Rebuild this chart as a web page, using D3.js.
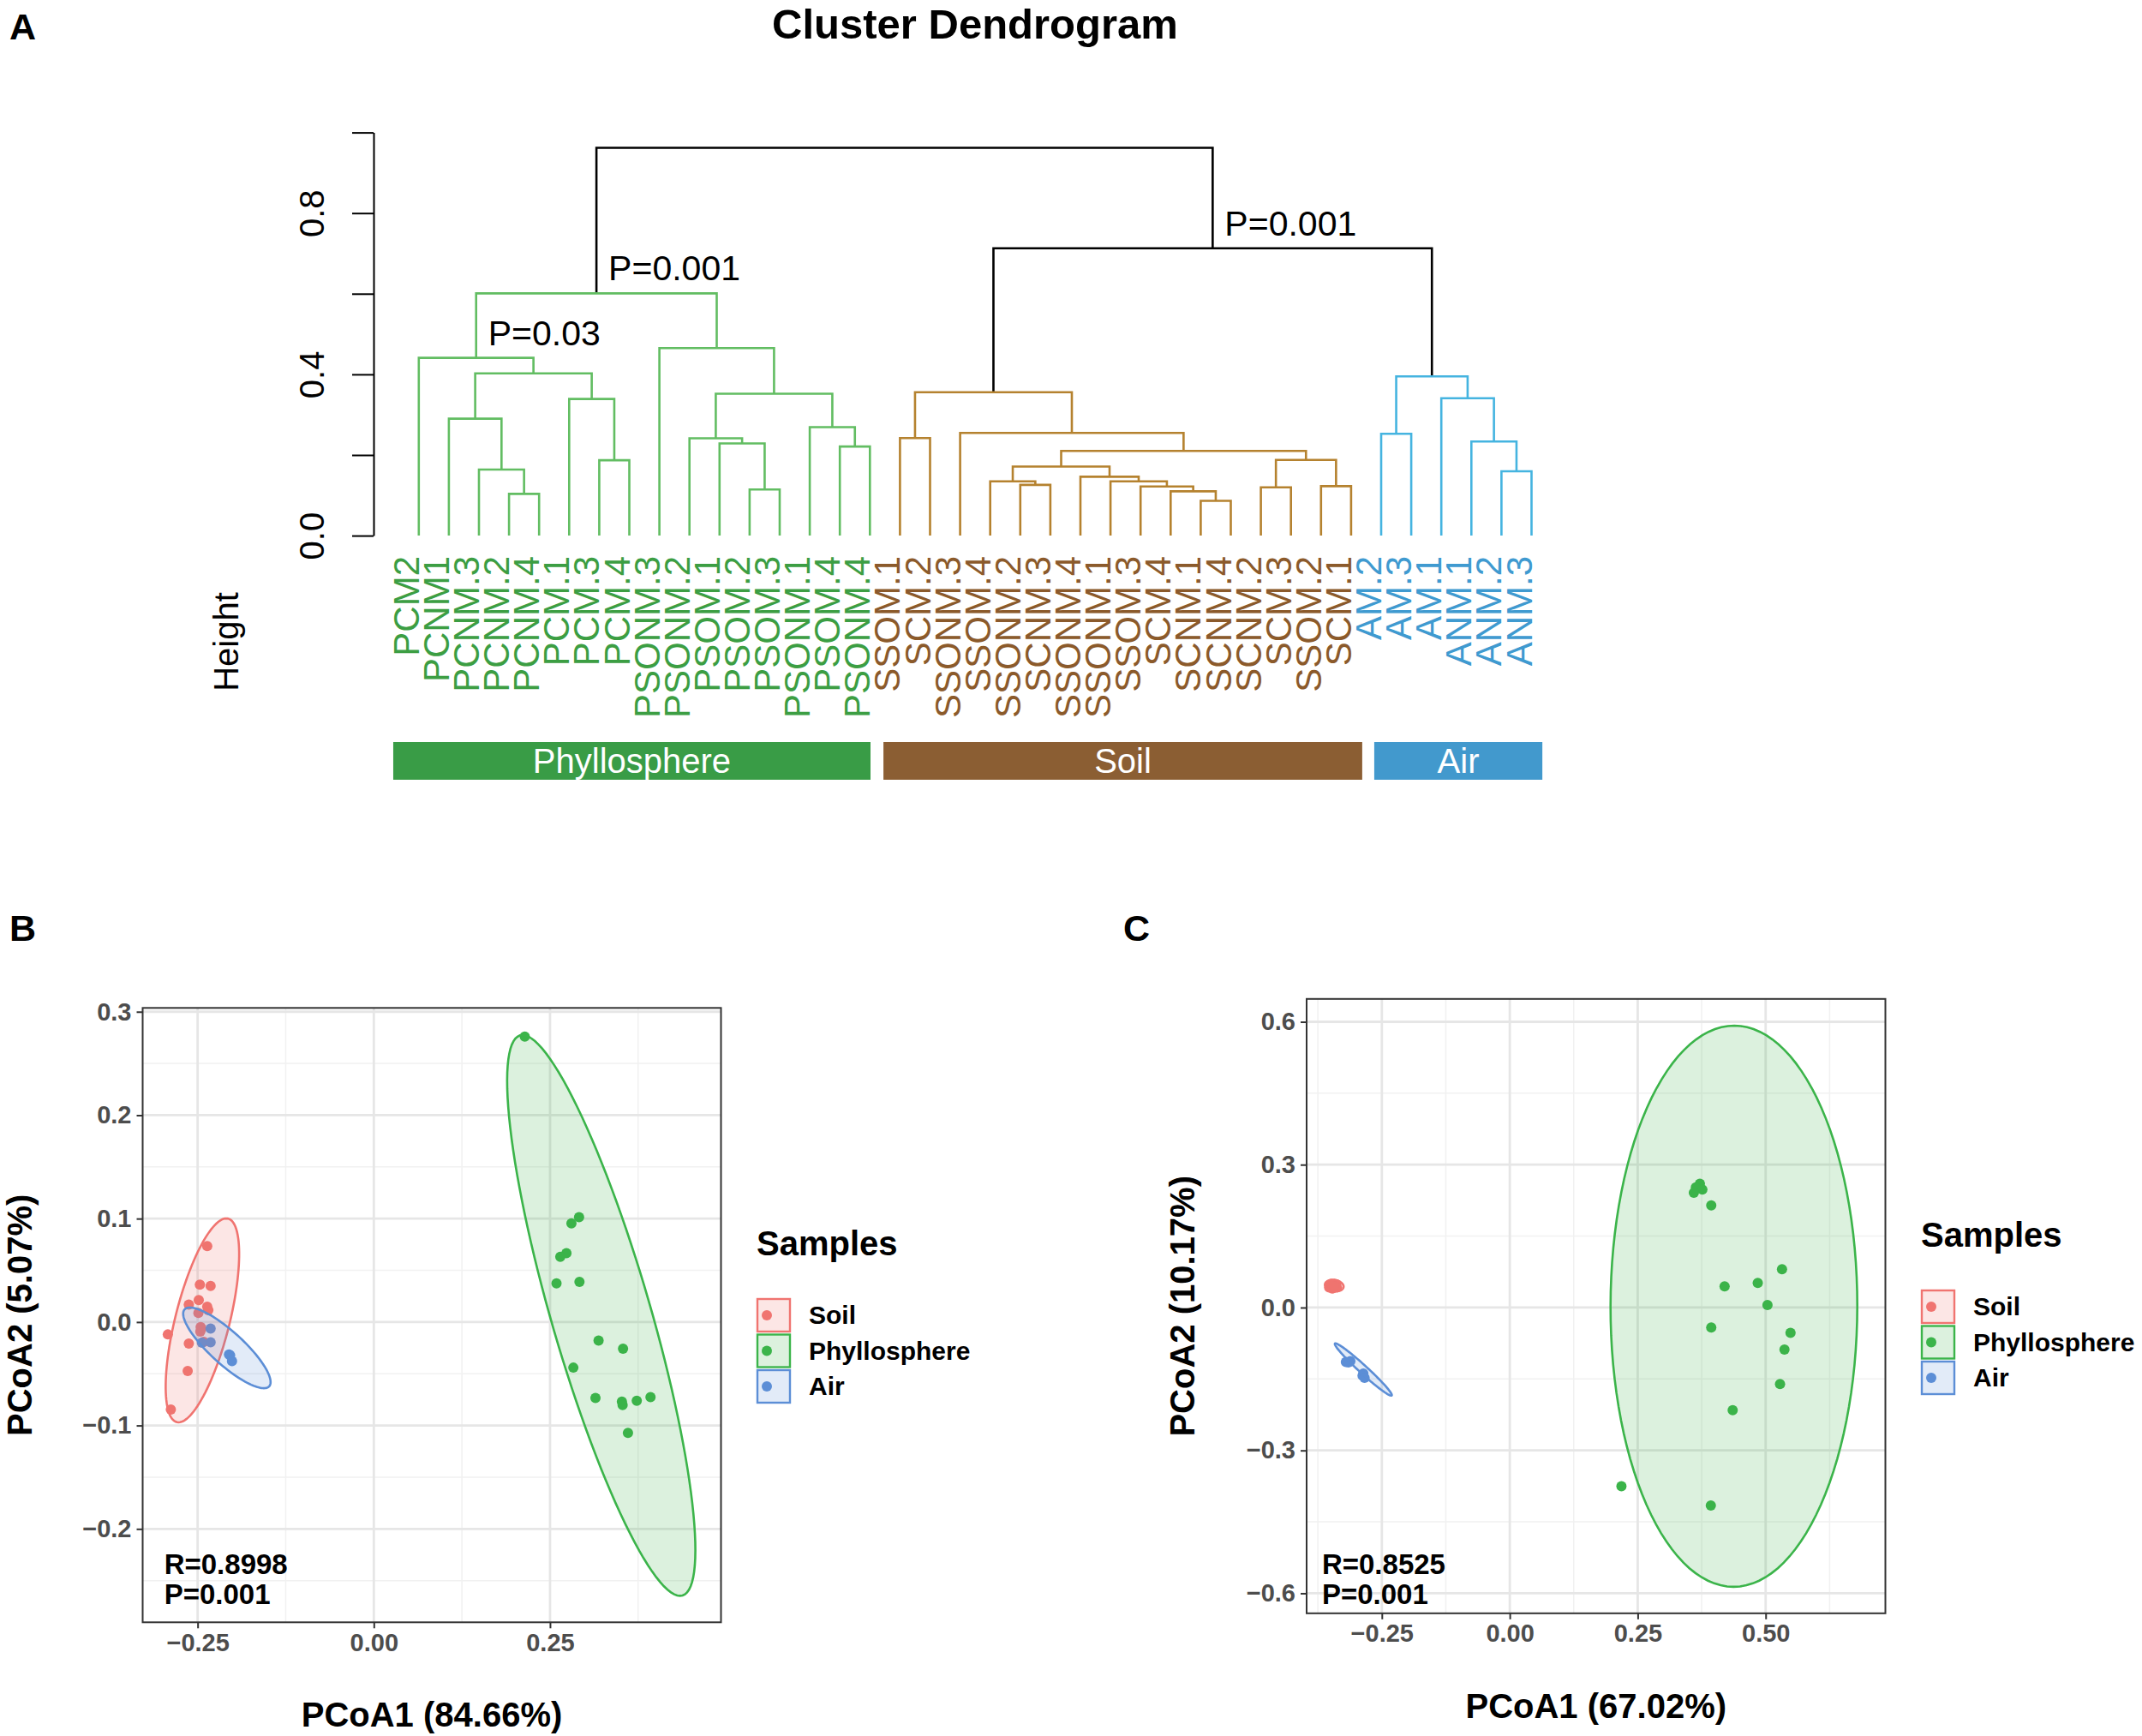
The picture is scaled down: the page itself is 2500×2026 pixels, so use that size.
<!DOCTYPE html>
<html>
<head>
<meta charset="utf-8">
<script src="https://cdn.jsdelivr.net/npm/d3@7"></script>
<style>
  body { margin: 0; background: #fff; }
  svg { display: block; }
  text { font-family: 'Liberation Sans', Arial, sans-serif; }
</style>
</head>
<body>
<svg id="fig" width="2500" height="2026"></svg>
<script>
// ---- Panel A: cluster dendrogram data ----
const groupNames = ['Phyllosphere', 'Soil', 'Air'];
const groupSizes = [16, 16, 6];
const leafLabels = [
  'PCM2', 'PCNM1', 'PCNM.3', 'PCNM.2', 'PCNM.4', 'PCM.1', 'PCM.3', 'PCM.4',
  'PSONM.3', 'PSONM.2', 'PSOM.1', 'PSOM.2', 'PSOM.3', 'PSONM.1', 'PSOM.4', 'PSONM.4',
  'SSOM.1', 'SCM.2', 'SSONM.3', 'SSOM.4', 'SSONM.2', 'SCNM.3', 'SSONM.4', 'SSONM.1',
  'SSOM.3', 'SCM.4', 'SCNM.1', 'SCNM.4', 'SCNM.2', 'SCM.3', 'SSOM.2', 'SCM.1',
  'AM.2', 'AM.3', 'AM.1', 'ANM.1', 'ANM.2', 'ANM.3'
];
// hclust style merges: negative = leaf (plot order), positive = earlier merge row, then height
const merges = [
  [-4, -5, 0.1035], [-3, 1, 0.164], [-2, 2, 0.290], [-7, -8, 0.187], [-6, 4, 0.339],
  [3, 5, 0.4025], [-1, 6, 0.441], [-12, -13, 0.1146], [-11, 8, 0.2287], [-10, 9, 0.2415],
  [-15, -16, 0.221], [-14, 11, 0.269], [10, 12, 0.352], [-9, 13, 0.465], [7, 14, 0.601],
  [-17, -18, 0.242], [-21, -22, 0.1258], [-20, 17, 0.1347], [-27, -28, 0.0863], [-26, 19, 0.110],
  [-25, 20, 0.122], [-24, 21, 0.1347], [-23, 22, 0.146], [18, 23, 0.1713], [-29, -30, 0.1197],
  [-31, -32, 0.1226], [25, 26, 0.1877], [24, 27, 0.210], [-19, 28, 0.2548], [16, 29, 0.3556],
  [-33, -34, 0.2527], [-37, -38, 0.1596], [-36, 32, 0.2334], [-35, 33, 0.3407], [31, 34, 0.395],
  [30, 35, 0.7127], [15, 36, 0.962]
];
const pLabelMerges = [15, 7, 36];
const pLabelTexts = ['P=0.001', 'P=0.03', 'P=0.001'];
const dendroTicks = [0, 0.2, 0.4, 0.6, 0.8, 1.0];
const dendroTickLabels = ['0.0', '', '0.4', '', '0.8', ''];
// group bars under the labels, in leaf units
const barStart = [0.15, 16.45, 32.77];
const barEnd = [16.02, 32.37, 38.36];

// ---- Panels B and C: PCoA data ----
const sampleGroups = ['Soil', 'Phyllosphere', 'Air'];

const bSoil = [
  [-0.2364, 0.0734], [-0.2468, 0.0361], [-0.2316, 0.0349], [-0.2484, 0.0213],
  [-0.2625, 0.0168], [-0.2364, 0.0148], [-0.2348, 0.0116], [-0.2489, 0.0088],
  [-0.2457, -0.0048], [-0.2462, -0.0092], [-0.2923, -0.0120], [-0.2625, -0.0208],
  [-0.2413, -0.0192], [-0.2641, -0.0473], [-0.2880, -0.0846], [-0.2446, -0.0064]
];
const bPhyllo = [
  [0.2142, 0.2759], [0.2912, 0.1014], [0.2804, 0.0954], [0.2733, 0.0666],
  [0.2646, 0.0630], [0.2592, 0.0373], [0.2918, 0.0389], [0.3189, -0.0180],
  [0.3536, -0.0257], [0.2831, -0.0441], [0.3145, -0.0734], [0.3520, -0.0770],
  [0.3530, -0.0802], [0.3731, -0.0762], [0.3926, -0.0726], [0.3606, -0.1071]
];
const bAir = [
  [-0.2316, -0.0064], [-0.2316, -0.0196], [-0.2440, -0.0200],
  [-0.2055, -0.0313], [-0.2039, -0.0321], [-0.2012, -0.0377]
];
// ellipse: centre x, centre y, top point x, top point y, half width at centre height
const bEllipses = [
  [-0.2432, 0.0016, -0.2093, 0.1002, 0.0396],
  [0.3227, 0.0064, 0.2110, 0.2775, 0.0732],
  [-0.2085, -0.0250, -0.2610, 0.0140, 0.0330]
];

const cSoil = [
  [-0.353, 0.042], [-0.350, 0.047], [-0.348, 0.044], [-0.346, 0.049],
  [-0.345, 0.041], [-0.344, 0.046], [-0.343, 0.050], [-0.342, 0.043],
  [-0.341, 0.047], [-0.340, 0.045], [-0.339, 0.049], [-0.338, 0.042],
  [-0.352, 0.046], [-0.349, 0.050], [-0.347, 0.040], [-0.344, 0.044]
];
const cPhyllo = [
  [0.3715, 0.2601], [0.3636, 0.2522], [0.3763, 0.2479], [0.3597, 0.2409],
  [0.3937, 0.2147], [0.5320, 0.0803], [0.4198, 0.0445], [0.4846, 0.0515],
  [0.5036, 0.0052], [0.3937, -0.0419], [0.5486, -0.0532], [0.5368, -0.0882],
  [0.5281, -0.1606], [0.4356, -0.2156], [0.2182, -0.3753], [0.3929, -0.4155]
];
const cAir = [
  [-0.3202, -0.1143], [-0.3115, -0.1126], [-0.3154, -0.1152],
  [-0.2862, -0.1388], [-0.2877, -0.1431], [-0.2838, -0.1475]
];
const cEllipses = [
  [-0.3430, 0.0460, -0.3460, 0.0580, 0.0180],
  [0.4380, 0.0027, 0.4387, 0.5918, 0.2411],
  [-0.2862, -0.1301, -0.3407, -0.0752, 0.0115]
];

// ---- colours ----
const branchColors = ['#62bd62', '#b5822f', '#45b4e0'];
const labelColors = ['#3c9e43', '#8b5a2b', '#3f9ad0'];
const barColors = ['#399c46', '#8b5e33', '#4299cd'];
const sampleColors = ['#f07470', '#3bb44a', '#5c8ed6'];

const svg = d3.select('#fig');

// Panel letters
svg.selectAll('.panel-letter')
  .data([['A', 11, 46], ['B', 11, 1098], ['C', 1311, 1098]])
  .join('text')
  .attr('x', d => d[1]).attr('y', d => d[2])
  .attr('font-size', 43).attr('font-weight', 'bold')
  .text(d => d[0]);

// ================= Panel A =================
function drawDendrogram() {
  const xA = d3.scaleLinear().domain([1, leafLabels.length]).range([488.8, 1787.5]);
  const yA = d3.scaleLinear().domain([0, 1]).range([625.1, 154.6]);
  const cum = d3.cumsum(groupSizes);
  const groupOf = i => d3.bisectLeft(cum, i);

  // build the tree from the merge rows
  const made = [];
  merges.forEach(([a, b, h]) => {
    const kid = i => i < 0 ? { leaf: -i, h: 0 } : made[i - 1];
    made.push({ h: h, children: [kid(a), kid(b)] });
  });
  const root = d3.hierarchy(made[made.length - 1]);
  root.eachAfter(n => {
    n.pos = n.children ? d3.mean(n.children, c => c.pos) : n.data.leaf;
  });

  const g = svg.append('g');
  svg.append('text')
    .attr('x', 1138).attr('y', 45)
    .attr('text-anchor', 'middle')
    .attr('font-size', 49).attr('font-weight', 'bold')
    .text('Cluster Dendrogram');

  // y axis
  const ax = g.append('g')
    .attr('transform', 'translate(436,0)')
    .call(d3.axisLeft(yA).tickValues(dendroTicks).tickSize(25).tickSizeOuter(0)
      .tickFormat((d, i) => dendroTickLabels[i]));
  ax.attr('font-family', null).attr('font-size', null);
  ax.select('.domain').attr('stroke', '#000').attr('stroke-width', 2);
  ax.selectAll('line').attr('stroke', '#000').attr('stroke-width', 2);
  ax.selectAll('text')
    .attr('x', null).attr('dy', null)
    .attr('text-anchor', 'middle')
    .attr('transform', 'translate(-58,0) rotate(-90)')
    .attr('font-size', 40).attr('fill', '#000');

  svg.append('text')
    .attr('transform', 'translate(278,749) rotate(-90)')
    .attr('text-anchor', 'middle')
    .attr('font-size', 40)
    .text('Height');

  // branches
  const internal = root.descendants().filter(n => n.children);
  g.selectAll('.branch')
    .data(internal)
    .join('path')
    .attr('class', 'branch')
    .attr('fill', 'none')
    .attr('stroke-width', 2.6)
    .attr('stroke', n => {
      const gs = new Set(n.leaves().map(l => groupOf(l.data.leaf)));
      return gs.size === 1 ? branchColors[[...gs][0]] : '#000';
    })
    .attr('d', n => {
      const [c0, c1] = n.children;
      return `M${xA(c0.pos)},${yA(c0.data.h)}V${yA(n.data.h)}H${xA(c1.pos)}V${yA(c1.data.h)}`;
    });

  // p-value labels
  pLabelMerges.forEach((m, i) => {
    const node = internal.find(n => n.data === made[m - 1]);
    g.append('text')
      .attr('x', xA(node.pos) + 14)
      .attr('y', yA(node.data.h) - 15)
      .attr('font-size', 41)
      .text(pLabelTexts[i]);
  });

  // leaf labels
  g.selectAll('.leaf-label')
    .data(leafLabels)
    .join('text')
    .attr('class', 'leaf-label')
    .attr('transform', (d, i) => `translate(${xA(i + 1)},649) rotate(-90)`)
    .attr('text-anchor', 'end')
    .attr('font-size', 42)
    .attr('fill', (d, i) => labelColors[groupOf(i + 1)])
    .text(d => d);

  // group bars
  const bars = g.selectAll('.gbar')
    .data(groupNames)
    .join('g');
  bars.append('rect')
    .attr('x', (d, i) => xA(barStart[i]))
    .attr('width', (d, i) => xA(barEnd[i]) - xA(barStart[i]))
    .attr('y', 866).attr('height', 44)
    .attr('fill', (d, i) => barColors[i]);
  bars.append('text')
    .attr('x', (d, i) => (xA(barStart[i]) + xA(barEnd[i])) / 2)
    .attr('y', 902)
    .attr('text-anchor', 'middle')
    .attr('font-size', 40)
    .attr('fill', '#fff')
    .text(d => d);
}

// ================= Panels B and C =================
function ellipsePoints(e) {
  const [cx, cy, tx, ty, hw] = e;
  return d3.range(0, 121).map(i => {
    const t = i / 120 * 2 * Math.PI;
    return [cx + Math.cos(t) * (tx - cx) + Math.sin(t) * hw, cy + Math.cos(t) * (ty - cy)];
  });
}

function drawPcoa(p) {
  const x = d3.scaleLinear().domain(p.xDomain).range([p.left, p.right]);
  const y = d3.scaleLinear().domain(p.yDomain).range([p.bottom, p.top]);
  const g = svg.append('g');

  g.append('clipPath').attr('id', 'clip-' + p.id)
    .append('rect')
    .attr('x', p.left).attr('y', p.top)
    .attr('width', p.right - p.left).attr('height', p.bottom - p.top);

  // grid lines
  const minor = (ticks, dom) => {
    const step = ticks[1] - ticks[0];
    return d3.range(ticks[0] - step / 2, dom[1], step).filter(v => v > dom[0]);
  };
  const grid = g.append('g');
  grid.selectAll('.vmin').data(minor(p.xTicks, p.xDomain)).join('line')
    .attr('x1', d => x(d)).attr('x2', d => x(d)).attr('y1', p.top).attr('y2', p.bottom)
    .attr('stroke', '#f1f1f1').attr('stroke-width', 1.5);
  grid.selectAll('.hmin').data(minor(p.yTicks, p.yDomain)).join('line')
    .attr('y1', d => y(d)).attr('y2', d => y(d)).attr('x1', p.left).attr('x2', p.right)
    .attr('stroke', '#f1f1f1').attr('stroke-width', 1.5);
  grid.selectAll('.vmaj').data(p.xTicks).join('line')
    .attr('x1', d => x(d)).attr('x2', d => x(d)).attr('y1', p.top).attr('y2', p.bottom)
    .attr('stroke', '#e6e6e6').attr('stroke-width', 2.8);
  grid.selectAll('.hmaj').data(p.yTicks).join('line')
    .attr('y1', d => y(d)).attr('y2', d => y(d)).attr('x1', p.left).attr('x2', p.right)
    .attr('stroke', '#e6e6e6').attr('stroke-width', 2.8);

  const plot = g.append('g').attr('clip-path', `url(#clip-${p.id})`);

  // points
  p.points.forEach((pts, gi) => {
    plot.selectAll('.pt' + gi)
      .data(pts)
      .join('circle')
      .attr('cx', d => x(d[0])).attr('cy', d => y(d[1]))
      .attr('r', 6)
      .attr('fill', sampleColors[gi]);
  });

  // ellipses
  const line = d3.line().x(d => x(d[0])).y(d => y(d[1])).curve(d3.curveLinearClosed);
  plot.selectAll('.ell')
    .data(p.ellipses)
    .join('path')
    .attr('d', e => line(ellipsePoints(e)))
    .attr('fill', (e, i) => sampleColors[i])
    .attr('fill-opacity', 0.18)
    .attr('stroke', (e, i) => sampleColors[i])
    .attr('stroke-width', 2.6);

  // border
  g.append('rect')
    .attr('x', p.left).attr('y', p.top)
    .attr('width', p.right - p.left).attr('height', p.bottom - p.top)
    .attr('fill', 'none').attr('stroke', '#333').attr('stroke-width', 2);

  // axes
  const styleAxis = a => {
    a.attr('font-family', null).attr('font-size', null);
    a.select('.domain').remove();
    a.selectAll('line').attr('stroke', '#333').attr('stroke-width', 2);
    a.selectAll('text').attr('font-size', 29).attr('font-weight', 'bold').attr('fill', '#4d4d4d');
  };
  g.append('g').attr('transform', `translate(0,${p.bottom})`)
    .call(d3.axisBottom(x).tickValues(p.xTicks).tickFormat(d3.format('.2f')).tickSize(7).tickPadding(6))
    .call(styleAxis);
  g.append('g').attr('transform', `translate(${p.left},0)`)
    .call(d3.axisLeft(y).tickValues(p.yTicks).tickFormat(d3.format('.1f')).tickSize(7).tickPadding(6))
    .call(styleAxis);

  // axis titles
  g.append('text')
    .attr('x', (p.left + p.right) / 2).attr('y', p.xTitleY)
    .attr('text-anchor', 'middle')
    .attr('font-size', 40).attr('font-weight', 'bold')
    .text(p.xTitle);
  g.append('text')
    .attr('transform', `translate(${p.yTitleX},${(p.top + p.bottom) / 2}) rotate(-90)`)
    .attr('text-anchor', 'middle')
    .attr('font-size', 40).attr('font-weight', 'bold')
    .text(p.yTitle);

  // R / P annotation
  p.stats.forEach((s, i) => {
    g.append('text')
      .attr('x', x(p.statX)).attr('y', y(p.statY) + i * 35)
      .attr('font-size', 33).attr('font-weight', 'bold')
      .text(s);
  });

  // legend
  const lg = g.append('g').attr('transform', `translate(${p.legendX},${p.legendY})`);
  lg.append('text').attr('x', 0).attr('y', 0)
    .attr('font-size', 40).attr('font-weight', 'bold')
    .text('Samples');
  const items = lg.selectAll('.item')
    .data(sampleGroups)
    .join('g')
    .attr('transform', (d, i) => `translate(0,${50 + i * 41.5})`);
  items.append('rect')
    .attr('x', 1).attr('y', 1).attr('width', 38).attr('height', 38)
    .attr('fill', (d, i) => sampleColors[i]).attr('fill-opacity', 0.18)
    .attr('stroke', (d, i) => sampleColors[i]).attr('stroke-width', 2.4);
  items.append('circle')
    .attr('cx', 12).attr('cy', 20).attr('r', 6)
    .attr('fill', (d, i) => sampleColors[i]);
  items.append('text')
    .attr('x', 61).attr('y', 30)
    .attr('font-size', 30).attr('font-weight', 'bold')
    .text(d => d);
}

drawDendrogram();

drawPcoa({
  id: 'b',
  left: 166.5, right: 841.5, top: 1176.3, bottom: 1893.3,
  xDomain: [-0.328, 0.4926], yDomain: [-0.2903, 0.3037],
  xTicks: [-0.25, 0, 0.25], yTicks: [-0.2, -0.1, 0, 0.1, 0.2, 0.3],
  points: [bSoil, bPhyllo, bAir], ellipses: bEllipses,
  xTitle: 'PCoA1 (84.66%)', yTitle: 'PCoA2 (5.07%)',
  xTitleY: 2015, yTitleX: 37,
  stats: ['R=0.8998', 'P=0.001'], statX: -0.2974, statY: -0.2437,
  legendX: 883, legendY: 1465
});

drawPcoa({
  id: 'c',
  left: 1525, right: 2200.5, top: 1165.8, bottom: 1882.8,
  xDomain: [-0.397, 0.734], yDomain: [-0.642, 0.648],
  xTicks: [-0.25, 0, 0.25, 0.5], yTicks: [-0.6, -0.3, 0, 0.3, 0.6],
  points: [cSoil, cPhyllo, cAir], ellipses: cEllipses,
  xTitle: 'PCoA1 (67.02%)', yTitle: 'PCoA2 (10.17%)',
  xTitleY: 2005, yTitleX: 1394,
  stats: ['R=0.8525', 'P=0.001'], statX: -0.367, statY: -0.5595,
  legendX: 2242, legendY: 1455
});
</script>
</body>
</html>
